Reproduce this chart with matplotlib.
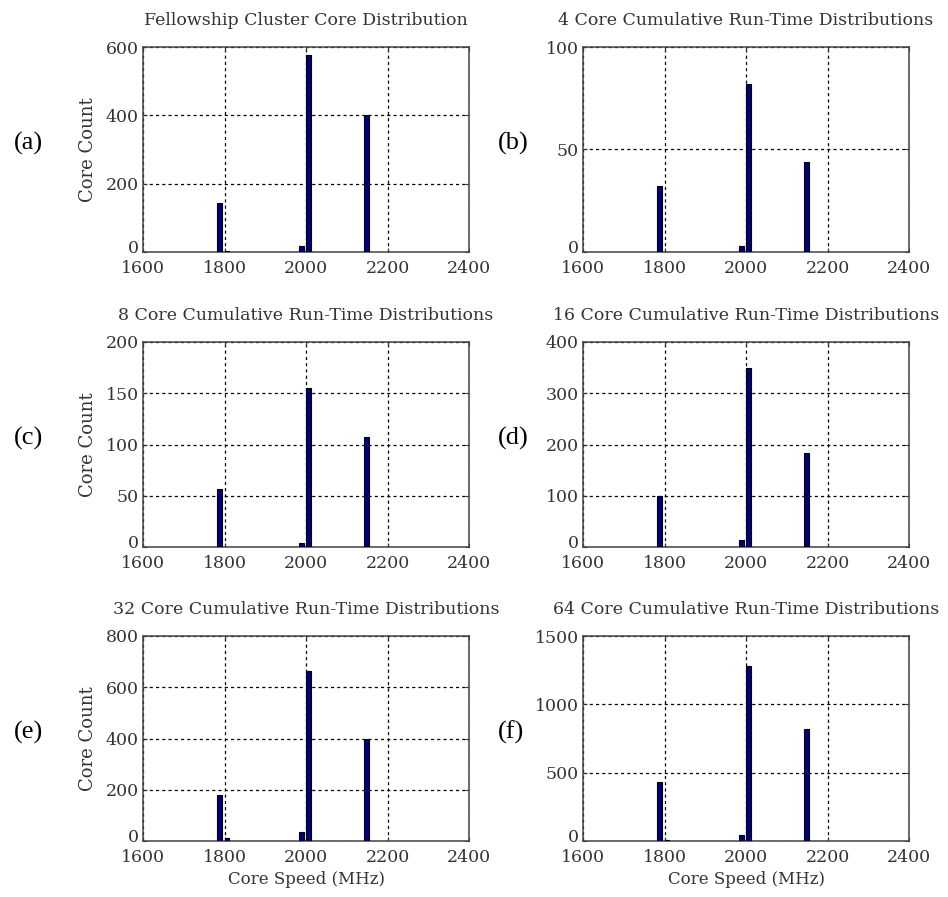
import numpy as np
import matplotlib.pyplot as plt
import matplotlib.transforms as mtransforms

# bin centres (MHz) shared by every panel
speeds = [1787, 1806, 1988, 2007, 2149]

titles = ['Fellowship Cluster Core Distribution',
          '4 Core Cumulative Run-Time Distributions',
          '8 Core Cumulative Run-Time Distributions',
          '16 Core Cumulative Run-Time Distributions',
          '32 Core Cumulative Run-Time Distributions',
          '64 Core Cumulative Run-Time Distributions']
panel_tags = ['(a)', '(b)', '(c)', '(d)', '(e)', '(f)']

counts_a = [142, 3, 18, 578, 400]
counts_b = [32, 0, 3, 82, 44]
counts_c = [57, 0, 4, 155, 107]
counts_d = [100, 0, 14, 350, 183]
counts_e = [181, 10, 36, 662, 400]
counts_f = [433, 5, 44, 1280, 822]
all_counts = [counts_a, counts_b, counts_c, counts_d, counts_e, counts_f]

y_max = [600, 100, 200, 400, 800, 1500]
y_step = [200, 50, 50, 100, 200, 500]
x_ticks = [1600, 1800, 2000, 2200, 2400]

plt.rcParams['font.family'] = 'DejaVu Serif'

fig = plt.figure(figsize=(9.48, 8.97), dpi=100)
W, H = 948, 897
lefts = [143, 583]
tops = [47, 342, 636]
aw, ah = 326, 205

for i in range(6):
    row, col = divmod(i, 2)
    l = lefts[col]
    t = tops[row]
    ax = fig.add_axes([l / W, 1 - (t + ah) / H, aw / W, ah / H])
    ax.bar(speeds, all_counts[i], width=12, color='#00007f',
           edgecolor='black', linewidth=0.8, zorder=3)
    ax.set_xlim(1600, 2400)
    ax.set_ylim(0, y_max[i])
    ax.set_xticks(x_ticks)
    ax.set_yticks(np.arange(0, y_max[i] + 1, y_step[i]))
    ax.grid(True, color='black', linestyle=(0, (2.5, 2.5)), linewidth=0.9, zorder=1)
    ax.tick_params(direction='in', length=3, labelsize=12.5, top=True, right=True,
                   colors='#333333', labelcolor='#333333')
    ax.tick_params(axis='x', pad=6)
    ax.tick_params(axis='y', pad=3)
    # lift the bottom "0" a little so it sits above the first x label
    lbl0 = ax.get_yticklabels()[0]
    lbl0.set_transform(lbl0.get_transform() +
                       mtransforms.ScaledTranslation(0, 4 / 72, fig.dpi_scale_trans))
    for s in ax.spines.values():
        s.set_color('#444444')
        s.set_linewidth(1.1)
    ax.set_title(titles[i], fontsize=12.5, color='#333333', pad=16)
    if col == 0:
        ax.set_ylabel('Core Count', fontsize=13, color='#333333', labelpad=6)
    if row == 2:
        ax.set_xlabel('Core Speed (MHz)', fontsize=12, color='#333333', labelpad=3)
    tag_x = 14 if col == 0 else 498
    fig.text(tag_x / W, 1 - (t + ah / 2 - 6) / H, panel_tags[i],
             fontsize=19, family='Liberation Serif', va='center', ha='left')

fig.savefig('out.png', dpi=100)
